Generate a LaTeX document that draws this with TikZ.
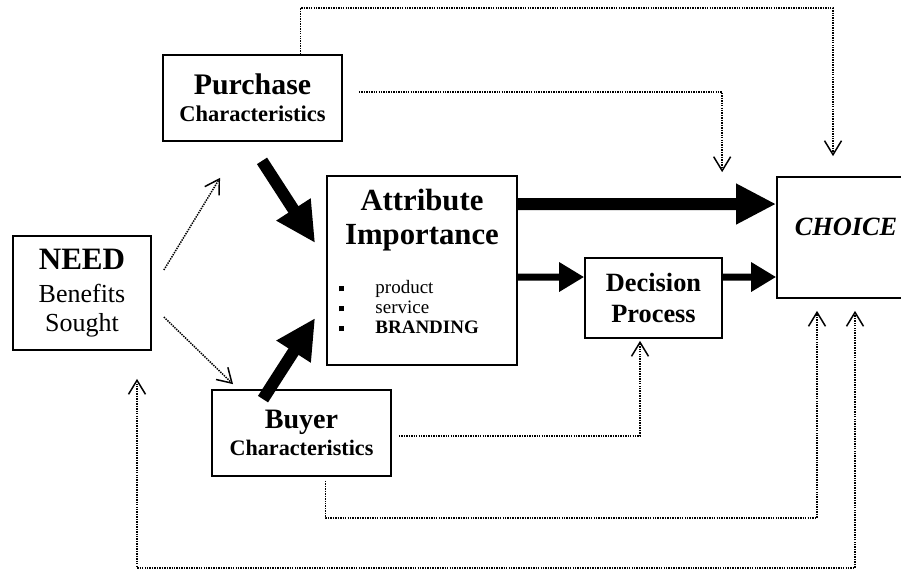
\documentclass[tikz,border=0pt]{standalone}
\usepackage{fontspec}
\setmainfont{Liberation Serif}
\usetikzlibrary{arrows.meta}

\tikzset{
    box/.style={draw, line width=1pt, inner sep=0pt, align=center},
    dotline/.style={dash pattern=on 0.8pt off 0.6pt, line width=0.85pt,
        >={Straight Barb[length=0.28cm,width=0.34cm]}},
    fatarrow/.style={line width=0.24cm, -{Triangle[length=0.8cm,width=0.76cm]}},
    midarrow/.style={line width=0.14cm, -{Triangle[length=0.5cm,width=0.56cm]}},
}
\newcommand{\sqbullet}{\raisebox{0.12em}{\rule{3pt}{3pt}}}

\begin{document}
\begin{tikzpicture}[x=0.02cm, y=-0.02cm]
        \useasboundingbox (0,0) rectangle (901,569);

        % Kaesten
        \node[box, minimum width=2.76cm, minimum height=2.28cm,
            font=\fontsize{14.8}{16.5}\selectfont] (need) at (82,293)
            {{\bfseries\fontsize{17.7}{20}\selectfont NEED}\\[2pt] Benefits\\ Sought};
        \node[box, minimum width=3.58cm, minimum height=1.72cm,
            font=\bfseries\fontsize{12.8}{15.3}\selectfont] (purch) at (252.5,98)
            {{\fontsize{17}{20}\selectfont Purchase}\\ Characteristics};
        \node[box, minimum width=3.58cm, minimum height=1.72cm,
            font=\bfseries\fontsize{12.6}{15.5}\selectfont] (buyer) at (301.5,433)
            {{\fontsize{16}{19}\selectfont Buyer}\\ Characteristics};
        \node[box, minimum width=3.8cm, minimum height=3.78cm,
            font=\bfseries\fontsize{17.5}{19.3}\selectfont] (attr) at (422,270.5)
            {Attribute\\ Importance\\[0.3cm]
             {\mdseries\fontsize{10.8}{11.3}\selectfont
              \begin{tabular}[t]{@{}l@{\hspace{0.62cm}}l@{\hspace{0.52cm}}}
                \sqbullet & product\\
                \sqbullet & service\\
                \sqbullet & \textbf{BRANDING}\\[0.24cm]
              \end{tabular}}};
        \node[box, minimum width=2.74cm, minimum height=1.6cm,
            font=\bfseries\fontsize{15}{17.5}\selectfont] (dec) at (653.5,298)
            {Decision\\ Process};
        \node[box, minimum width=2.76cm, minimum height=2.42cm, text height=0pt, text depth=0pt,
            font=\bfseries\itshape\fontsize{15}{18}\selectfont] (choice) at (846,237.5)
            {\raisebox{0.05cm}{CHOICE}};

        % dicke Pfeile
        \draw[fatarrow] ([shift={(9.5,19)}]purch.south) -- ([shift={(-11,-27.5)}]attr.west);
        \draw[fatarrow] ([shift={(-38.5,10)}]buyer.north) -- ([shift={(-11,47.5)}]attr.west);
        \draw[fatarrow] ([yshift=1.33cm]attr.east) -- ([yshift=0.67cm]choice.west);
        \draw[midarrow] ([yshift=-0.13cm]attr.east) -- ([yshift=0.42cm]dec.west);
        \draw[midarrow] ([yshift=0.42cm]dec.east) -- ([yshift=-0.79cm]choice.west);

        % gepunktete Linien
        \draw[dotline, ->] ([shift={(12,-23)}]need.east) -- ([shift={(-32.5,36)}]purch.south);
        \draw[dotline, ->] ([shift={(12,24)}]need.east) -- ([shift={(-68.5,-5)}]buyer.north);
        \draw[dotline, ->] ([xshift=0.96cm]purch.north) -- ++(0,-46) -| ([shift={(-13,-20)}]choice.north);
        \draw[dotline, ->] ([shift={(16,-6)}]purch.east) -| ([shift={(-54,-4)}]choice.north west);
        \draw[dotline, ->] ([shift={(7,3)}]buyer.east) -| ([shift={(-13.5,2)}]dec.south);
        \draw[dotline, ->] ([shift={(24,4)}]buyer.south) -- ++(0,37) -| ([shift={(-29,12)}]choice.south);
        \draw[dotline, <->] ([shift={(55,28)}]need.south) -- ++(0,189) -| ([shift={(9,12)}]choice.south);
\end{tikzpicture}
\end{document}
